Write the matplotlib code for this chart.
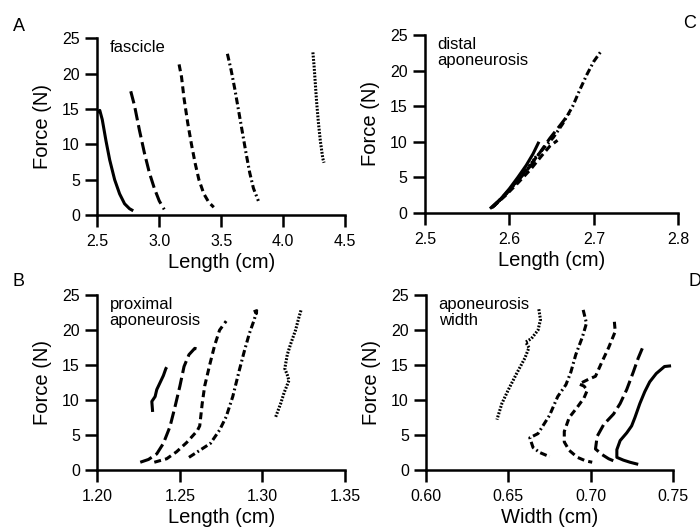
import numpy as np
import matplotlib
matplotlib.use("Agg")
import matplotlib.pyplot as plt

plt.rcParams['font.family'] = ['Liberation Sans', 'DejaVu Sans']
plt.rcParams['lines.scale_dashes'] = False

### DATA
# A - fascicle, length (cm) vs force (N)
fas_solid_x = [2.50, 2.52, 2.54, 2.57, 2.60, 2.64, 2.68, 2.72, 2.76, 2.79]
fas_solid_y = [14.5, 14.8, 13.5, 10.5, 7.8, 5.0, 3.0, 1.6, 0.9, 0.6]
fas_long_x = [2.77, 2.80, 2.84, 2.88, 2.92, 2.96, 3.00, 3.04]
fas_long_y = [17.5, 15.5, 12.0, 8.8, 6.0, 3.8, 2.0, 0.8]
fas_dash_x = [3.16, 3.18, 3.20, 3.23, 3.26, 3.29, 3.32, 3.36, 3.40, 3.44]
fas_dash_y = [21.3, 19.5, 16.5, 13.0, 10.0, 7.3, 5.0, 3.0, 1.8, 1.1]
fas_dd_x = [3.55, 3.58, 3.61, 3.64, 3.67, 3.70, 3.73, 3.76, 3.80]
fas_dd_y = [22.8, 20.5, 17.8, 14.8, 11.8, 8.8, 6.0, 3.8, 2.0]
fas_dot_x = [4.24, 4.25, 4.26, 4.27, 4.285, 4.30, 4.32, 4.33]
fas_dot_y = [23.0, 21.0, 18.5, 16.0, 13.0, 10.5, 8.0, 7.4]

# C - distal aponeurosis
dis_solid_x = [2.577, 2.59, 2.60, 2.61, 2.62, 2.628, 2.635]
dis_solid_y = [0.6, 2.0, 3.4, 5.0, 6.7, 8.3, 10.0]
dis_long_x = [2.579, 2.595, 2.61, 2.625, 2.638, 2.648, 2.66, 2.671]
dis_long_y = [0.7, 2.5, 4.5, 6.6, 8.8, 10.5, 12.3, 14.0]
dis_dash_x = [2.58, 2.595, 2.61, 2.625, 2.638, 2.648, 2.657]
dis_dash_y = [0.8, 2.4, 4.2, 6.1, 8.0, 9.4, 10.2]
dis_dd_x = [2.58, 2.595, 2.61, 2.625, 2.64, 2.652, 2.663, 2.675, 2.683, 2.692, 2.70, 2.709]
dis_dd_y = [0.8, 2.6, 4.6, 6.8, 9.0, 10.6, 12.5, 15.0, 17.2, 19.5, 21.3, 22.8]
dis_dot_x = [2.582, 2.597, 2.612, 2.625, 2.632]
dis_dot_y = [1.0, 2.8, 4.8, 6.8, 8.0]

# B - proximal aponeurosis
prx_solid_x = [1.2335, 1.233, 1.235, 1.236, 1.238, 1.240, 1.2415, 1.242]
prx_solid_y = [8.3, 9.8, 10.5, 11.5, 12.5, 13.5, 14.5, 14.7]
prx_long_x = [1.226, 1.231, 1.236, 1.240, 1.244, 1.247, 1.250, 1.2525, 1.2555, 1.259, 1.262]
prx_long_y = [1.1, 1.5, 2.3, 3.8, 6.2, 9.0, 12.0, 14.8, 16.5, 17.4, 17.2]
prx_dash_x = [1.2345, 1.242, 1.248, 1.254, 1.2605, 1.262, 1.2635, 1.265, 1.268, 1.271, 1.274, 1.278]
prx_dash_y = [1.1, 1.6, 2.6, 3.9, 5.6, 6.3, 9.5, 12.0, 15.0, 17.8, 20.0, 21.3]
prx_dd_x = [1.2555, 1.262, 1.2685, 1.274, 1.278, 1.282, 1.286, 1.289, 1.292, 1.295, 1.2965, 1.2945, 1.2975]
prx_dd_y = [1.8, 2.8, 3.8, 5.7, 7.6, 10.5, 14.3, 17.0, 19.5, 21.5, 22.8, 22.6, 22.3]
prx_dot_x = [1.308, 1.311, 1.313, 1.316, 1.315, 1.3135, 1.315, 1.317, 1.320, 1.322, 1.3235]
prx_dot_y = [7.6, 9.5, 11.0, 12.8, 13.6, 14.5, 16.5, 18.0, 20.0, 21.8, 23.0]

# D - aponeurosis width
wid_solid_x = [0.749, 0.745, 0.740, 0.736, 0.733, 0.730, 0.727, 0.725, 0.722, 0.718, 0.716, 0.716, 0.720, 0.724, 0.729]
wid_solid_y = [14.9, 14.8, 13.8, 12.6, 11.2, 9.5, 7.5, 6.3, 5.3, 4.2, 2.9, 1.8, 1.4, 1.1, 0.8]
wid_long_x = [0.7315, 0.729, 0.726, 0.722, 0.718, 0.714, 0.708, 0.704, 0.703, 0.707, 0.711, 0.715]
wid_long_y = [17.4, 16.0, 14.0, 11.5, 9.5, 8.0, 6.5, 4.8, 3.0, 2.2, 1.6, 1.2]
wid_dash_x = [0.7145, 0.715, 0.711, 0.707, 0.703, 0.699, 0.693, 0.696, 0.698, 0.696, 0.692, 0.687, 0.684, 0.684, 0.687, 0.692, 0.697, 0.701]
wid_dash_y = [21.2, 19.8, 17.5, 15.5, 13.4, 13.0, 12.3, 12.0, 11.4, 10.3, 9.0, 7.5, 5.5, 4.0, 2.8, 1.8, 1.3, 1.1]
wid_dd_x = [0.6955, 0.6975, 0.695, 0.691, 0.688, 0.685, 0.680, 0.675, 0.668, 0.663, 0.665, 0.669, 0.675]
wid_dd_y = [22.9, 21.0, 19.0, 16.5, 14.0, 12.2, 10.5, 7.8, 5.2, 4.6, 3.2, 2.5, 1.9]
wid_dot_x = [0.6685, 0.6695, 0.668, 0.664, 0.6605, 0.6625, 0.660, 0.655, 0.650, 0.646, 0.643]
wid_dot_y = [23.0, 21.5, 20.0, 18.8, 18.3, 17.5, 16.0, 13.8, 11.5, 9.5, 7.2]

### STYLE
styles = [None, (9, 3.5), (5, 3), (5, 2.2, 1.3, 2.2), (1.3, 1.1)]
lw = 2.2


def draw(ax, series, xlim, xticks, xfmt, xlabel, note):
    for (x, y), d in zip(series, styles):
        line, = ax.plot(x, y, color='black', lw=lw, solid_capstyle='butt')
        if d is not None:
            line.set_dashes(d)
    ax.set_xlim(*xlim)
    ax.set_ylim(0, 25)
    ax.set_xticks(xticks)
    ax.set_xticklabels([xfmt % t for t in xticks])
    ax.set_yticks([0, 5, 10, 15, 20, 25])
    ax.spines['top'].set_visible(False)
    ax.spines['right'].set_visible(False)
    for s in ['left', 'bottom']:
        ax.spines[s].set_linewidth(1.8)
    ax.tick_params(direction='out', length=8.5, width=1.8, labelsize=11.5, pad=4)
    ax.tick_params(axis='x', pad=5)
    ax.set_xlabel(xlabel, fontsize=14.5, labelpad=3)
    ax.set_ylabel('Force (N)', fontsize=14.5, labelpad=7)
    ax.text(0.05, 0.99, note, transform=ax.transAxes, ha='left', va='top',
            fontsize=12, linespacing=1.1)
    ax.patch.set_alpha(0)


fig = plt.figure(figsize=(7, 5.31), dpi=100)
axA = fig.add_axes([0.139, 0.595, 0.354, 0.333])
axC = fig.add_axes([0.607, 0.599, 0.362, 0.335])
axB = fig.add_axes([0.139, 0.115, 0.354, 0.329])
axD = fig.add_axes([0.609, 0.115, 0.352, 0.329])

draw(axA, [(fas_solid_x, fas_solid_y), (fas_long_x, fas_long_y), (fas_dash_x, fas_dash_y),
           (fas_dd_x, fas_dd_y), (fas_dot_x, fas_dot_y)],
     (2.5, 4.5), [2.5, 3.0, 3.5, 4.0, 4.5], '%.1f', 'Length (cm)', 'fascicle')
draw(axC, [(dis_solid_x, dis_solid_y), (dis_long_x, dis_long_y), (dis_dash_x, dis_dash_y),
           (dis_dd_x, dis_dd_y), (dis_dot_x, dis_dot_y)],
     (2.5, 2.8), [2.5, 2.6, 2.7, 2.8], '%.1f', 'Length (cm)', 'distal\naponeurosis')
draw(axB, [(prx_solid_x, prx_solid_y), (prx_long_x, prx_long_y), (prx_dash_x, prx_dash_y),
           (prx_dd_x, prx_dd_y), (prx_dot_x, prx_dot_y)],
     (1.20, 1.35), [1.20, 1.25, 1.30, 1.35], '%.2f', 'Length (cm)', 'proximal\naponeurosis')
draw(axD, [(wid_solid_x, wid_solid_y), (wid_long_x, wid_long_y), (wid_dash_x, wid_dash_y),
           (wid_dd_x, wid_dd_y), (wid_dot_x, wid_dot_y)],
     (0.60, 0.75), [0.60, 0.65, 0.70, 0.75], '%.2f', 'Width (cm)', 'aponeurosis\nwidth')

fig.text(13 / 700, 1 - 18 / 531, 'A', fontsize=13, va='top', ha='left')
fig.text(683 / 700, 1 - 15 / 531, 'C', fontsize=13, va='top', ha='left')
fig.text(13 / 700, 1 - 273 / 531, 'B', fontsize=13, va='top', ha='left')
fig.text(688 / 700, 1 - 273 / 531, 'D', fontsize=13, va='top', ha='left')

fig.savefig('out.png', dpi=100)
